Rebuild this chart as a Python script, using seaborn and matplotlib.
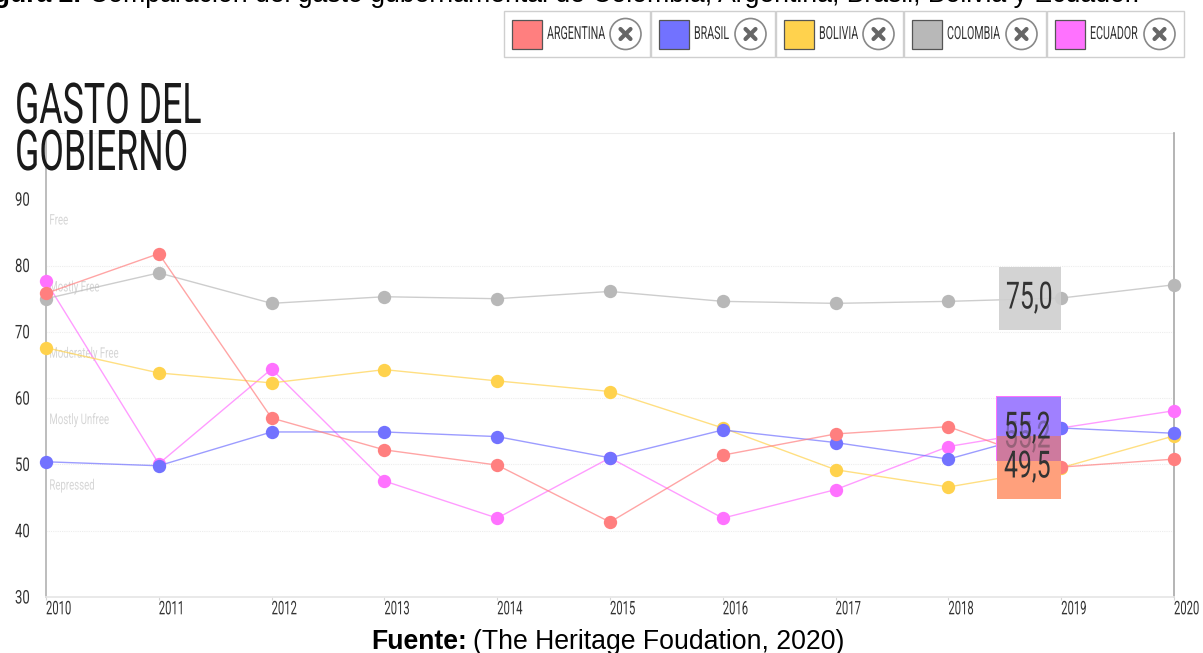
import pandas as pd
import matplotlib
matplotlib.use('Agg')
import matplotlib.pyplot as plt
from matplotlib.colors import to_rgb
from matplotlib.patches import Rectangle, Ellipse
from matplotlib.lines import Line2D
from matplotlib.patheffects import AbstractPathEffect
from matplotlib.transforms import Affine2D
import seaborn as sns

years = [2010, 2011, 2012, 2013, 2014, 2015, 2016, 2017, 2018, 2019, 2020]
argentina = [75.8, 81.8, 57.0, 52.2, 49.9, 41.3, 51.4, 54.6, 55.7, 49.6, 50.8]
brasil = [50.4, 49.8, 54.9, 54.9, 54.2, 51.0, 55.2, 53.3, 50.8, 55.5, 54.7]
bolivia = [67.6, 63.8, 62.3, 64.3, 62.6, 61.0, 55.5, 49.2, 46.6, 49.5, 54.3]
colombia = [75.0, 78.9, 74.3, 75.3, 75.0, 76.1, 74.6, 74.3, 74.6, 75.1, 77.1]
ecuador = [77.6, 50.1, 64.4, 47.5, 41.9, 51.0, 41.9, 46.2, 52.7, 55.5, 58.1]

y_ticks = [30, 40, 50, 60, 70, 80, 90]
bandas = ['Free', 'Mostly Free', 'Moderately Free', 'Mostly Unfree', 'Repressed']
banda_y = [86.8, 76.7, 66.7, 56.7, 46.8]
colores = {'ARGENTINA': '#FF7F7F', 'BRASIL': '#7272FF', 'BOLIVIA': '#FFD24D',
           'COLOMBIA': '#B8B8B8', 'ECUADOR': '#FF72FF'}

W, H = 1203, 653


class Estrecho(AbstractPathEffect):
    # no hay fuente condensada instalada: se comprime el texto en horizontal
    def __init__(self, sx):
        super().__init__()
        self.sx = sx

    def draw_path(self, renderer, gc, tpath, affine, rgbFace=None):
        renderer.draw_path(gc, tpath, Affine2D().scale(self.sx, 1) + affine, rgbFace)


def angosto(sx):
    return dict(family='Roboto', path_effects=[Estrecho(sx)])


df = pd.DataFrame({'ARGENTINA': argentina, 'BRASIL': brasil, 'BOLIVIA': bolivia,
                   'COLOMBIA': colombia, 'ECUADOR': ecuador}, index=years)
df = df.rename_axis('year').reset_index().melt('year', var_name='pais', value_name='valor')

sns.set_theme(style='white')
plt.rcParams['font.family'] = ['Liberation Sans', 'DejaVu Sans']

fig = plt.figure(figsize=(W / 100, H / 100), dpi=100)
ax = fig.add_axes([46 / W, 1 - 597 / H, (1174 - 46) / W, (597 - 133) / H])


def fx(x):
    return x / W


def fy(y):
    return 1 - y / H


sns.lineplot(data=df, x='year', y='valor', hue='pais', palette=colores,
             hue_order=['ECUADOR', 'COLOMBIA', 'BOLIVIA', 'BRASIL', 'ARGENTINA'],
             marker='o', markersize=9.6, markeredgewidth=0, linewidth=1,
             legend=False, clip_on=False, zorder=3, ax=ax)
# lineas mas palidas que los puntos
for line in ax.lines:
    c = line.get_color()
    line.set_markerfacecolor(c)
    line.set_markeredgecolor(c)
    line.set_color((*to_rgb(c), 0.7))

ax.set_xlim(2010, 2020)
ax.set_ylim(30, 100)
ax.set_xlabel('')
ax.set_ylabel('')
ax.set_xticks(years)
ax.set_yticks(y_ticks)
ax.set_xticklabels([])
ax.set_yticklabels([])
ax.tick_params(axis='y', length=0)
ax.tick_params(axis='x', length=2, width=0.8, color='#D5D5D5', bottom=True)
for v in [40, 50, 60, 70, 80, 100]:
    ax.axhline(v, color='#EDEDED', lw=0.8, ls=(0, (1, 1)) if v != 100 else '-', zorder=0, clip_on=False)
ax.spines['top'].set_visible(False)
ax.spines['bottom'].set_color('#E6E6E6')
ax.spines['left'].set_color('#BDBDBD')
ax.spines['right'].set_color('#A8A8A8')
ax.spines['left'].set_linewidth(1.4)
ax.spines['right'].set_linewidth(1.2)

# etiquetas de ejes
for yr in years:
    ax.text(yr, 29.5, str(yr), ha='left', va='top', fontsize=13.5,
            color='#333333', clip_on=False, **angosto(0.6))
for v in y_ticks:
    fig.text(fx(15), fy(597 - (v - 30) * 6.63 + 1.5), str(v), ha='left', va='center', fontsize=13.5,
             color='#333333', **angosto(0.7))
for b, v in zip(bandas, banda_y):
    ax.text(2010.03, v, b, ha='left', va='center', fontsize=10.5,
            color='#D6D6D6', zorder=2, **angosto(0.66))

# titulo
fig.text(fx(15), fy(123), 'GASTO DEL', fontsize=40.5, color='#1A1A1A', va='baseline', **angosto(0.635))
fig.text(fx(15), fy(170), 'GOBIERNO', fontsize=40.5, color='#1A1A1A', va='baseline', **angosto(0.635))

# textos del documento
fig.text(fx(81), fy(2), 'Figura 2.', fontsize=19.2, fontweight='bold', color='black', va='baseline', ha='right')
fig.text(fx(89), fy(2), 'Comparación del gasto gubernamental de Colombia, Argentina, Brasil, Bolivia y Ecuador.',
         fontsize=19.2, color='black', va='baseline')
fig.text(fx(371), fy(649), 'Fuente:', fontsize=19.2, fontweight='bold', color='black', va='baseline')
fig.text(fx(473), fy(649), '(The Heritage Foudation, 2020)', fontsize=19.2, color='black', va='baseline')


def caja(x0, y0, x1, y1, color, alpha=1.0, z=5):
    fig.add_artist(Rectangle((fx(x0), fy(y1)), (x1 - x0) / W, (y1 - y0) / H, transform=fig.transFigure,
                             facecolor=color, edgecolor='none', alpha=alpha, zorder=z))


def etiqueta(x, y, s, alpha=1.0, z=8):
    fig.text(fx(x), fy(y), s, fontsize=27, color='#333333', ha='left',
             va='center', alpha=alpha, zorder=z, **angosto(0.66))


# cajas del tooltip
caja(999, 267, 1061, 330, '#CFCFCF', 0.9)
etiqueta(1006, 298, '75,0')
caja(996, 396, 1061, 461, '#FF72FF', 1.0, 5)
caja(997, 397, 1061, 461, '#A080FF', 1.0, 5.1)
etiqueta(1004, 437, '55,2', 0.35, 5.5)
caja(997, 436, 1061, 499, '#FFA07C', 1.0, 5.3)
caja(997, 436, 1061, 461, '#CE7A9E', 1.0, 5.4)
etiqueta(1004, 428, '55,2')
etiqueta(1004, 467, '49,5')

# leyenda
legend_x = [504, 651, 776, 904, 1047]
legend_end = [650, 775, 903, 1046, 1184]
legend_names = ['ARGENTINA', 'BRASIL', 'BOLIVIA', 'COLOMBIA', 'ECUADOR']
for x0, x1, name in zip(legend_x, legend_end, legend_names):
    fig.add_artist(Rectangle((fx(x0), fy(57)), (x1 - x0) / W, 46 / H, transform=fig.transFigure,
                             facecolor='white', edgecolor='#CFCFCF', lw=1))
    fig.add_artist(Rectangle((fx(x0 + 8), fy(49)), 30 / W, 29 / H, transform=fig.transFigure,
                             facecolor=colores[name], edgecolor='#555555', lw=0.9))
    fig.text(fx(x0 + 43), fy(34), name, fontsize=13, color='#333333',
             va='center', ha='left', **angosto(0.59))
    cx = x1 - 24.5
    fig.add_artist(Ellipse((fx(cx), fy(34)), 31 / W, 31 / H, transform=fig.transFigure,
                           facecolor='white', edgecolor='#888888', lw=1.2))
    fig.add_artist(Line2D([fx(cx - 5), fx(cx + 5)], [fy(29), fy(39)], color='#666666', lw=3))
    fig.add_artist(Line2D([fx(cx - 5), fx(cx + 5)], [fy(39), fy(29)], color='#666666', lw=3))

fig.savefig('out.png', dpi=100)
